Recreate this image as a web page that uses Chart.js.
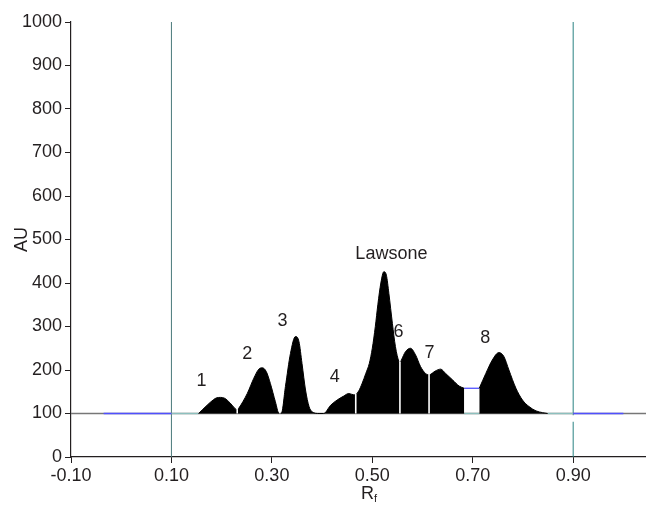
<!DOCTYPE html>
<html>
<head>
<meta charset="utf-8">
<script src="https://cdn.jsdelivr.net/npm/chart.js@4/dist/chart.umd.min.js"></script>
<style>
  html, body { margin: 0; padding: 0; background: #fff; }
  #wrap { width: 646px; height: 505px; }
</style>
</head>
<body>
<div id="wrap"><canvas id="myChart"></canvas></div>
<script>
// densitogram trace (Rf, AU); null = gap in the trace
const peakRf = [0.154, 0.171, 0.184, 0.190, 0.198, 0.206, 0.217, 0.227, 0.231,
  0.234, 0.251, 0.264, 0.274, 0.281, 0.289, 0.297, 0.307, 0.314,
  0.319, 0.327, 0.337, 0.347, 0.354, 0.360, 0.367, 0.374, 0.380, 0.394,
  0.403, 0.417, 0.430, 0.443, 0.453, 0.463, 0.467,
  0.473, 0.480, 0.487, 0.494, 0.500, 0.506, 0.511, 0.517, 0.523, 0.528, 0.533, 0.540, 0.546, 0.553, 0.555,
  0.558, 0.566, 0.576, 0.586, 0.596, 0.606, 0.613,
  0.626, 0.636, 0.646, 0.660, 0.673, 0.683,
  0.698,
  0.713, 0.726, 0.739, 0.752, 0.762, 0.772, 0.786, 0.799, 0.812, 0.826, 0.839, 0.849];
const peakAu = [100, 119, 132, 136, 137, 135, 124, 111, 108,
  112, 146, 181, 202, 205, 196, 169, 127, 101,
  101, 162, 238, 277, 265, 215, 154, 116, 104, 100,
  100, 119, 131, 140, 146, 143, 144,
  152, 170, 192, 215, 250, 300, 350, 400, 426, 418, 376, 307, 254, 219, 216,
  223, 242, 250, 235, 208, 192, 189,
  198, 202, 192, 177, 163, 158,
  null,
  158, 192, 223, 240, 231, 200, 158, 131, 116, 106, 102, 100];

// white cuts between integrated peaks
const cutRf = [0.231, 0.316, 0.467, 0.555, 0.613];
const cutAu = [110, 104, 146, 219, 191];

const labelText = ['1', '2', '3', '4', 'Lawsone', '6', '7', '8'];
const labelRf = [0.160, 0.251, 0.321, 0.425, 0.538, 0.552, 0.614, 0.725];
const labelAu = [175, 236, 313, 184, 467, 287, 240, 274];

const xTickValues = [-0.10, 0.10, 0.30, 0.50, 0.70, 0.90];
const markerRf = [0.10, 0.90];

// baseline pieces: [fromRf, toRf, au]
const greyBase = [[-0.10, 1.045, 100]];
const blueBase = [[-0.035, 0.10, 100], [0.683, 0.713, 158], [0.90, 1.0, 100]];
const tealBase = [[0.10, 0.154, 100], [0.683, 0.713, 100], [0.849, 0.90, 100]];

function segSets(segs, color, order) {
  return segs.map(s => ({
    data: [{ x: s[0], y: s[2] }, { x: s[1], y: s[2] }],
    borderColor: color, borderWidth: 1.3, pointRadius: 0, fill: false, order: order
  }));
}

const tracePoints = peakRf.map((x, i) => ({ x: x, y: peakAu[i] }));
const cutSets = cutRf.map((x, i) => ({
  data: [{ x: x, y: 100 }, { x: x, y: cutAu[i] }],
  borderColor: '#ffffff', borderWidth: 1.6, pointRadius: 0, fill: false, order: 0
}));

const font = "Arial, 'Liberation Sans', Helvetica, sans-serif";

const textPlugin = {
  id: 'peakText',
  afterDatasetsDraw(chart) {
    const { ctx, scales } = chart;
    ctx.save();
    ctx.fillStyle = '#231f20';
    ctx.font = '18px ' + font;
    ctx.textAlign = 'center';
    ctx.textBaseline = 'middle';
    labelText.forEach(function (t, i) {
      ctx.fillText(t, scales.x.getPixelForValue(labelRf[i]), scales.y.getPixelForValue(labelAu[i]));
    });
    // x axis title with subscript
    ctx.textAlign = 'left';
    ctx.fillText('R', 361, 494);
    ctx.font = '11px ' + font;
    ctx.fillText('f', 374, 499);
    ctx.restore();
  }
};

const ctx = document.getElementById('myChart');

new Chart(ctx, {
  type: 'line',
  data: {
    datasets: [
      ...cutSets,
      {
        data: tracePoints, borderColor: '#000000', backgroundColor: '#000000', borderWidth: 1,
        pointRadius: 0, fill: { value: 100 }, spanGaps: false,
        cubicInterpolationMode: 'monotone', order: 1
      },
      ...segSets(blueBase, '#5050ff', 2),
      ...segSets(tealBase, '#8cc0be', 3),
      ...segSets(greyBase, '#777777', 4),
      {
        data: [{ x: markerRf[0], y: 0 }, { x: markerRf[0], y: 1000 }],
        borderColor: '#4a7a7b', borderWidth: 1, pointRadius: 0, fill: false, order: 5
      },
      {
        data: [{ x: markerRf[1], y: 0 }, { x: markerRf[1], y: 81 }, { x: markerRf[1], y: null },
               { x: markerRf[1], y: 96 }, { x: markerRf[1], y: 1000 }],
        borderColor: '#2a8383', borderWidth: 1, pointRadius: 0, fill: false,
        spanGaps: false, order: 5
      }
    ]
  },
  options: {
    responsive: true,
    maintainAspectRatio: false,
    animation: false,
    layout: { padding: { top: 22, right: 0, left: 0, bottom: 0 } },
    plugins: {
      legend: { display: false },
      tooltip: { enabled: false }
    },
    scales: {
      x: {
        type: 'linear',
        min: -0.10,
        max: 1.045,
        afterBuildTicks: function (scale) {
          scale.ticks = xTickValues.map(v => ({ value: v }));
        },
        afterFit: function (scale) { scale.height = 48; },
        grid: { drawOnChartArea: false, drawTicks: true, tickLength: 6, color: '#231f20' },
        border: { display: true, color: '#231f20', width: 1.2 },
        ticks: {
          padding: 2,
          color: '#231f20',
          font: { size: 18, family: font },
          maxRotation: 0,
          autoSkip: false,
          callback: v => v.toFixed(2)
        }
      },
      y: {
        min: 0,
        max: 1000,
        afterFit: function (scale) { scale.width = 71; },
        grid: { drawOnChartArea: false, drawTicks: true, tickLength: 6, color: '#231f20' },
        border: { display: true, color: '#231f20', width: 1.2 },
        ticks: {
          stepSize: 100,
          padding: 3,
          color: '#231f20',
          font: { size: 18, family: font },
          callback: v => String(v)
        },
        title: {
          display: true,
          text: 'AU',
          color: '#231f20',
          font: { size: 18, family: font },
          padding: { top: 11, bottom: 0 }
        }
      }
    }
  },
  plugins: [textPlugin]
});
</script>
</body>
</html>
